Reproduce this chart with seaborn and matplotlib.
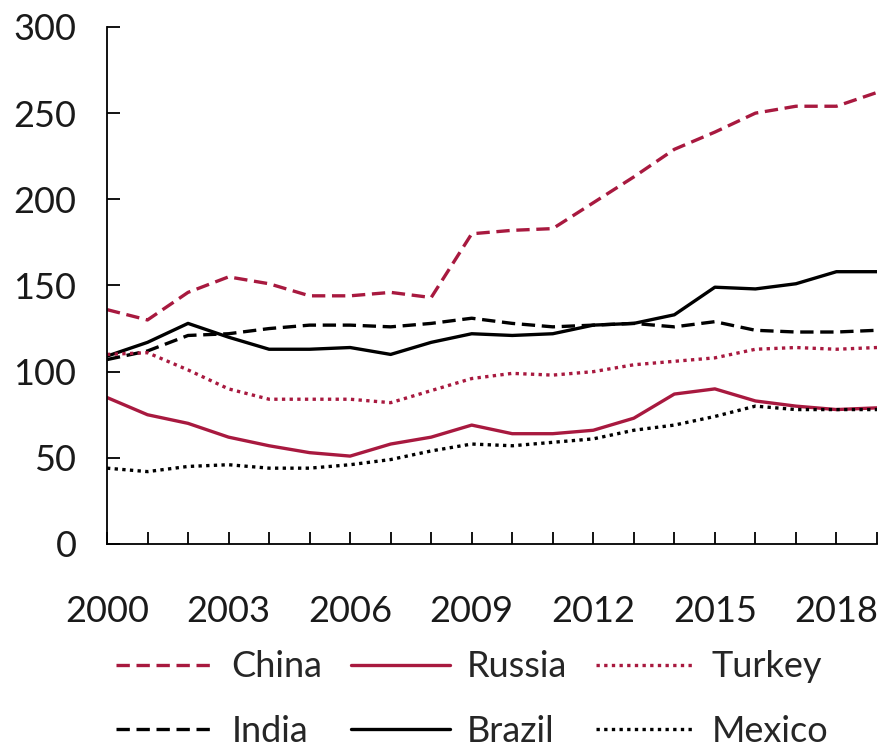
import numpy as np
import pandas as pd
import matplotlib
matplotlib.use('Agg')
import matplotlib.pyplot as plt
import seaborn as sns

years = list(range(2000, 2020))

china = [136, 130, 146, 155, 151, 144, 144, 146, 143, 180, 182, 183, 198, 213, 229, 239, 250, 254, 254, 262]
russia = [85, 75, 70, 62, 57, 53, 51, 58, 62, 69, 64, 64, 66, 73, 87, 90, 83, 80, 78, 79]
turkey = [110, 111, 101, 90, 84, 84, 84, 82, 89, 96, 99, 98, 100, 104, 106, 108, 113, 114, 113, 114]
india = [107, 112, 121, 122, 125, 127, 127, 126, 128, 131, 128, 126, 127, 128, 126, 129, 124, 123, 123, 124]
brazil = [109, 117, 128, 120, 113, 113, 114, 110, 117, 122, 121, 122, 127, 128, 133, 149, 148, 151, 158, 158]
mexico = [44, 42, 45, 46, 44, 44, 46, 49, 54, 58, 57, 59, 61, 66, 69, 74, 80, 78, 78, 78]

red = '#A8193F'
series = [
    ('China', china, red, (4, 2)),
    ('India', india, 'black', (4, 2)),
    ('Russia', russia, red, None),
    ('Brazil', brazil, 'black', None),
    ('Turkey', turkey, red, (1, 1.3)),
    ('Mexico', mexico, 'black', (1, 1.3)),
]

sns.set_style('white')
plt.rcParams['font.family'] = ['Lato', 'DejaVu Sans']

fig = plt.figure(figsize=(8.79, 7.49), dpi=100)
ax = fig.add_axes([0.1217, 0.2737, 0.876, 0.6903])

for name, vals, col, dash in series:
    sns.lineplot(x=years, y=vals, color=col, linewidth=2.4, label=name, ax=ax)
    line = ax.lines[-1]
    if dash is not None:
        line.set_dashes(dash)

ax.set_xlim(2000, 2019)
ax.set_ylim(0, 300)
ax.set_xticks(years)
ax.set_xticklabels([str(y) if (y - 2000) % 3 == 0 else '' for y in years])
ax.set_yticks(range(0, 301, 50))

for s in ['top', 'right']:
    ax.spines[s].set_visible(False)
for s in ['left', 'bottom']:
    ax.spines[s].set_color('black')
    ax.spines[s].set_linewidth(1.3)

ax.tick_params(axis='both', direction='in', length=9, width=1.3, color='black',
               labelsize=26, labelcolor='#1a1a1a', left=True, bottom=True)
ax.tick_params(axis='y', pad=22)
ax.tick_params(axis='x', pad=37)

ax.get_legend().remove()
handles, labels = ax.get_legend_handles_labels()
fig.legend(handles, labels, loc='upper center', bbox_to_anchor=(0.537, 0.151),
           ncol=3, frameon=False, fontsize=26, handlelength=2.75, handletextpad=0.45,
           columnspacing=0.8, labelspacing=0.88, borderaxespad=0)

fig.savefig('out.png', dpi=100)
